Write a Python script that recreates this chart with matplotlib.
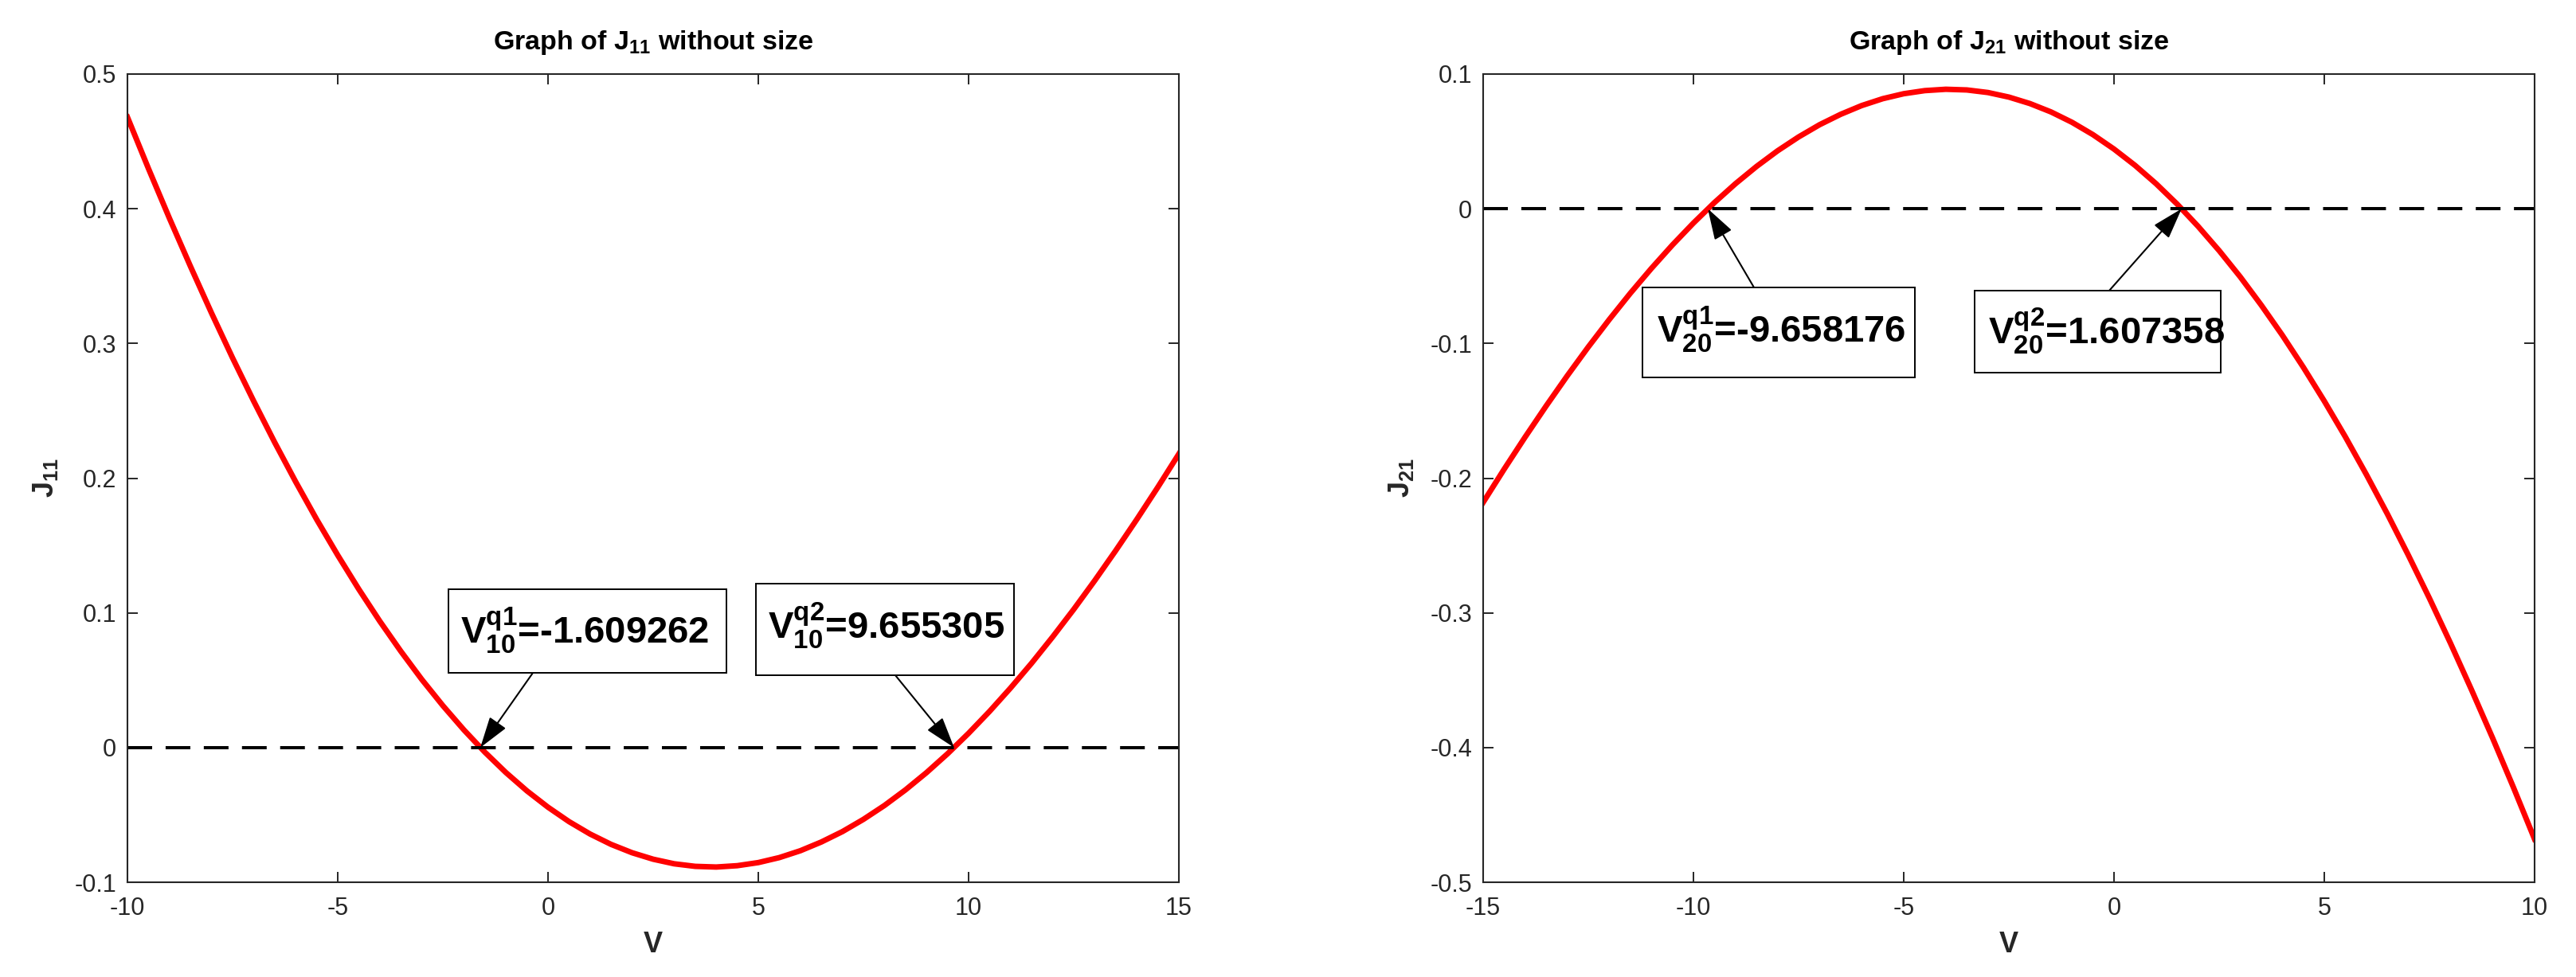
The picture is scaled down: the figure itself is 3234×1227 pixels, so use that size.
import matplotlib
matplotlib.use("Agg")
import matplotlib.pyplot as plt
from matplotlib import font_manager
from matplotlib.patches import Rectangle
from matplotlib.ticker import FuncFormatter

# ── Data ────────────────────────────────────────────────────────────────────
v_left = [-10, -9.5, -9, -8.5, -8, -7.5, -7, -6.5, -6, -5.5, -5, -4.5, -4, -3.5,
          -3, -2.5, -2, -1.5, -1, -0.5, 0, 0.5, 1, 1.5, 2, 2.5, 3, 3.5, 4, 4.5,
          5, 5.5, 6, 6.5, 7, 7.5, 8, 8.5, 9, 9.5, 10, 10.5, 11, 11.5, 12, 12.5,
          13, 13.5, 14, 14.5, 15]
j11 = [0.4680, 0.4298, 0.3928, 0.3571, 0.3225, 0.2892, 0.2573, 0.2266, 0.1973,
       0.1693, 0.1428, 0.1176, 0.0938, 0.0715, 0.0505, 0.0311, 0.0131, -0.0035,
       -0.0186, -0.0322, -0.0443, -0.0550, -0.0642, -0.0719, -0.0781, -0.0829,
       -0.0863, -0.0882, -0.0887, -0.0877, -0.0854, -0.0817, -0.0766, -0.0701,
       -0.0624, -0.0533, -0.0430, -0.0314, -0.0186, -0.0046, 0.0106, 0.0269,
       0.0443, 0.0627, 0.0822, 0.1026, 0.1240, 0.1463, 0.1694, 0.1933, 0.2180]

v_right = [-15, -14.5, -14, -13.5, -13, -12.5, -12, -11.5, -11, -10.5, -10, -9.5,
           -9, -8.5, -8, -7.5, -7, -6.5, -6, -5.5, -5, -4.5, -4, -3.5, -3, -2.5,
           -2, -1.5, -1, -0.5, 0, 0.5, 1, 1.5, 2, 2.5, 3, 3.5, 4, 4.5, 5, 5.5,
           6, 6.5, 7, 7.5, 8, 8.5, 9, 9.5, 10]
j21 = [-0.2180, -0.1933, -0.1694, -0.1463, -0.1240, -0.1026, -0.0822, -0.0627,
       -0.0443, -0.0269, -0.0106, 0.0046, 0.0186, 0.0314, 0.0430, 0.0533, 0.0624,
       0.0701, 0.0766, 0.0817, 0.0854, 0.0877, 0.0887, 0.0882, 0.0863, 0.0829,
       0.0781, 0.0719, 0.0642, 0.0550, 0.0443, 0.0322, 0.0186, 0.0035, -0.0131,
       -0.0311, -0.0505, -0.0715, -0.0938, -0.1176, -0.1428, -0.1693, -0.1973,
       -0.2266, -0.2573, -0.2892, -0.3225, -0.3571, -0.3928, -0.4298, -0.4680]

roots_left = [-1.609262, 9.655305]
roots_right = [-9.658176, 1.607358]
names_left = [r"$\mathbf{V^{q1}_{10}}$", r"$\mathbf{V^{q2}_{10}}$"]
names_right = [r"$\mathbf{V^{q1}_{20}}$", r"$\mathbf{V^{q2}_{20}}$"]

# ── Style: narrow Helvetica-like face if available ──────────────────────────
installed = {f.name for f in font_manager.fontManager.ttflist}
FACE = "Liberation Sans Narrow" if "Liberation Sans Narrow" in installed else "Liberation Sans"
plt.rcParams["font.family"] = [FACE, "DejaVu Sans"]
plt.rcParams["mathtext.fontset"] = "custom"
plt.rcParams["mathtext.rm"] = FACE
plt.rcParams["mathtext.bf"] = FACE + ":bold"
plt.rcParams["mathtext.it"] = FACE + ":italic"
plt.rcParams["axes.unicode_minus"] = False

W, H = 3234, 1227
DARK = "#262626"
fig = plt.figure(figsize=(W / 100, H / 100), dpi=100)

ax1 = fig.add_axes([160 / W, 1 - 1108 / H, 1320 / W, 1015 / H])
ax2 = fig.add_axes([1862 / W, 1 - 1108 / H, 1320 / W, 1015 / H])


def style_axes(ax, xlim, ylim, title, ylabel):
    ax.set_xlim(*xlim)
    ax.set_ylim(*ylim)
    ax.set_xticks(range(xlim[0], xlim[1] + 1, 5))
    ax.set_yticks([ylim[0] + 0.1 * k for k in range(7)])
    ax.yaxis.set_major_formatter(FuncFormatter(lambda v, _: f"{round(v, 2):g}"))
    ax.tick_params(direction="in", top=True, right=True, length=9.5, width=1.4,
                   colors=DARK, labelsize=22)
    ax.tick_params(axis="x", pad=13)
    ax.tick_params(axis="y", pad=10)
    for s in ax.spines.values():
        s.set_linewidth(1.5)
        s.set_color(DARK)
    ax.set_title(title, fontsize=24.5, fontweight="bold", color="black", pad=22)
    ax.set_xlabel("V", fontsize=26, fontweight="bold", color=DARK, labelpad=9)
    ax.set_ylabel(ylabel, fontsize=26, fontweight="bold", color=DARK, labelpad=13)


def add_box(box, text_xy, arrow_from, root, label, ax):
    x0, x1, y0, y1 = box
    fig.add_artist(Rectangle((x0 / W, 1 - y1 / H), (x1 - x0) / W, (y1 - y0) / H,
                             transform=fig.transFigure, facecolor="white",
                             edgecolor="black", lw=1.4, zorder=5))
    fig.text(text_xy[0] / W, 1 - text_xy[1] / H, f"{label}={root:.6f}",
             fontsize=34, fontweight="bold", ha="left", va="baseline", zorder=6)
    ax.annotate("", xy=(root, 0), xycoords="data",
                xytext=(arrow_from[0], H - arrow_from[1]), textcoords="figure pixels",
                arrowprops=dict(arrowstyle="-|>,head_length=1.1,head_width=0.35",
                                mutation_scale=22, lw=1.5, color="black",
                                shrinkA=0, shrinkB=0), zorder=7)


# ── Left panel ──────────────────────────────────────────────────────────────
ax1.plot(v_left, j11, color="red", lw=5, solid_joinstyle="round")
ax1.plot([v_left[0], v_left[-1]], [0, 0], color="black", lw=2.9, dashes=(7.7, 4.2))
style_axes(ax1, (-10, 15), (-0.1, 0.5), r"Graph of $\mathbf{J_{11}}$ without size",
           r"$\mathbf{J_{11}}$")
add_box((563, 912, 740, 845), (578, 808), (669, 845), roots_left[0], names_left[0], ax1)
add_box((949, 1273, 733, 848), (964, 802), (1124, 848), roots_left[1], names_left[1], ax1)

# ── Right panel ─────────────────────────────────────────────────────────────
ax2.plot(v_right, j21, color="red", lw=5, solid_joinstyle="round")
ax2.plot([v_right[0], v_right[-1]], [0, 0], color="black", lw=2.9, dashes=(7.7, 4.2))
style_axes(ax2, (-15, 10), (-0.5, 0.1), r"Graph of $\mathbf{J_{21}}$ without size",
           r"$\mathbf{J_{21}}$")
add_box((2062, 2404, 361, 474), (2080, 430), (2202, 361), roots_right[0], names_right[0], ax2)
add_box((2479, 2788, 365, 468), (2496, 432), (2648, 365), roots_right[1], names_right[1], ax2)

fig.savefig("out.png", dpi=100, facecolor="white")
plt.close(fig)
